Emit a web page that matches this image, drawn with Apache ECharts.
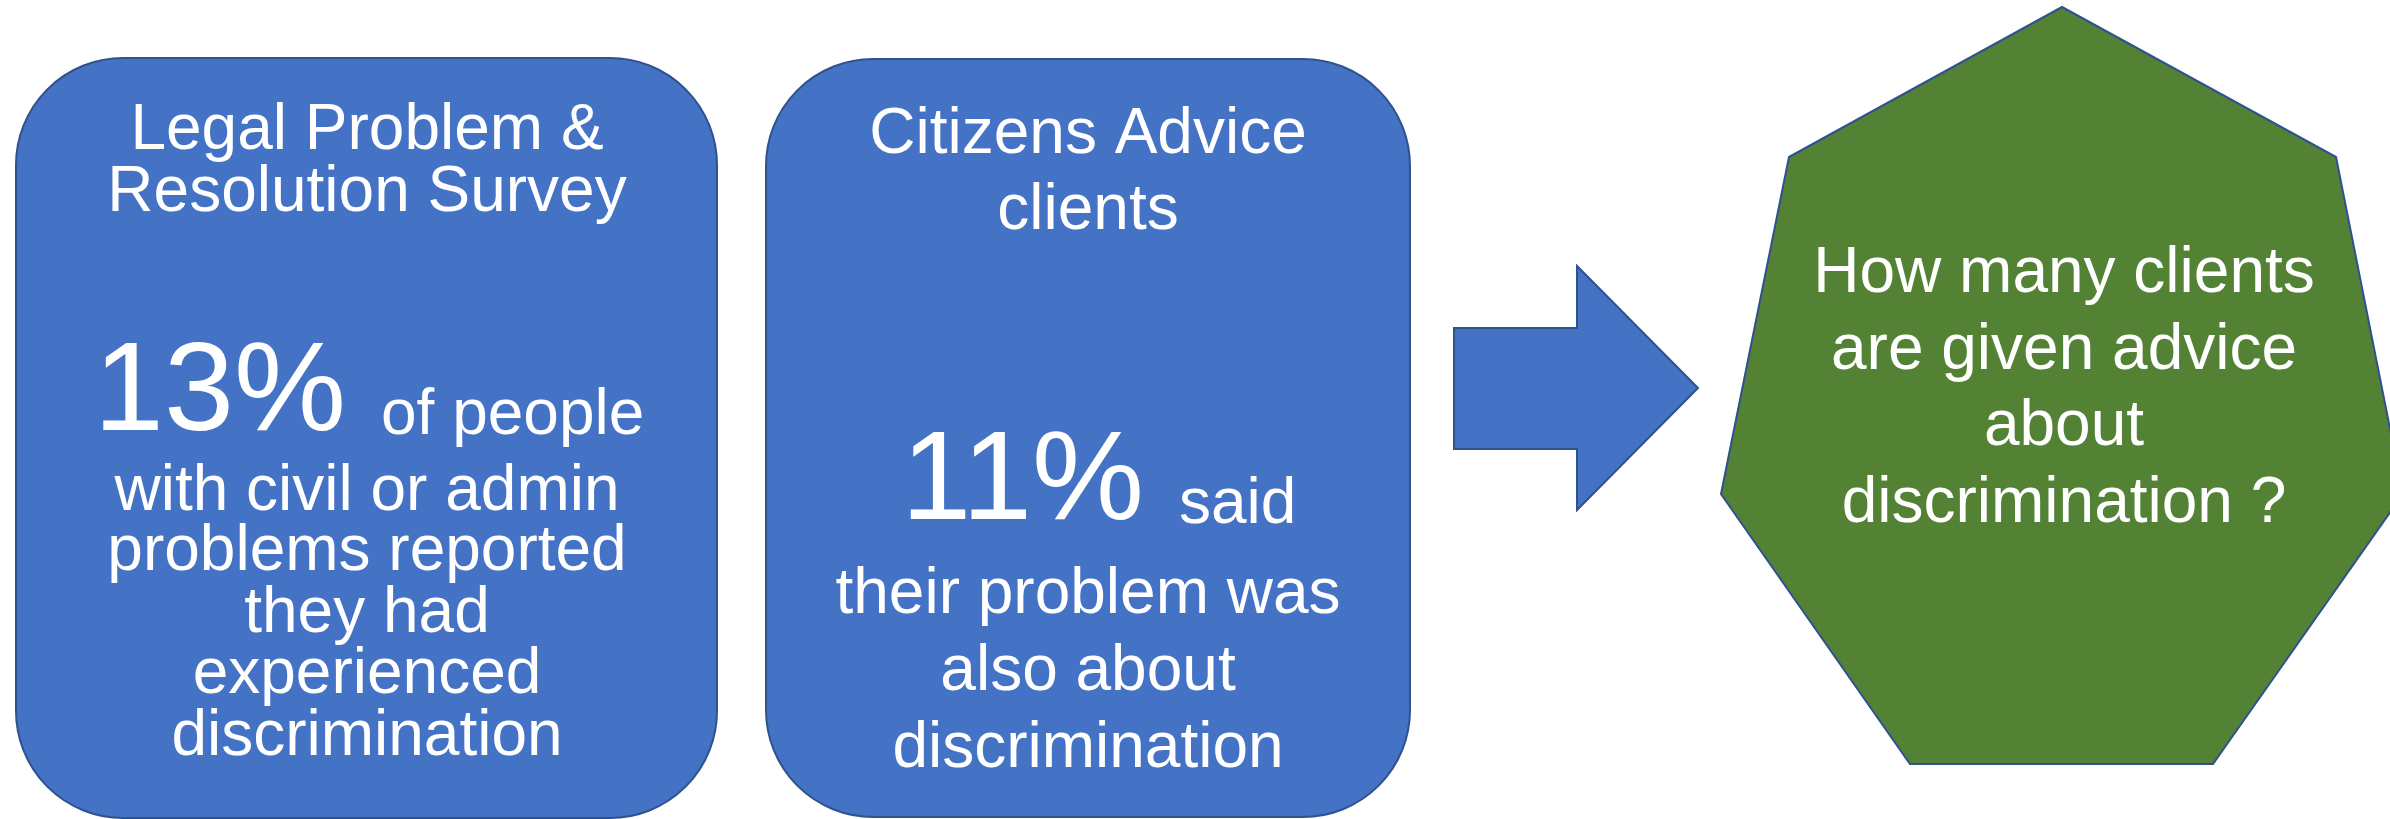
<!DOCTYPE html>
<html>
<head>
<meta charset="utf-8">
<script src="https://cdn.jsdelivr.net/npm/echarts@6/dist/echarts.min.js"></script>
<style>
html,body{margin:0;padding:0;background:#fff;}
#chart{width:2390px;height:819px;}
</style>
</head>
<body>
<div id="chart"></div>
<script>
// ---- data ----
const headings = [
  ["Legal Problem &", "Resolution Survey"],
  ["Citizens Advice", "clients"]
];
const percentages = [13, 11];
const leadWords = ["of people", "said"];
const descriptions = [
  ["with civil or admin", "problems reported", "they had", "experienced", "discrimination"],
  ["their problem was", "also about", "discrimination"]
];
const questionLines = ["How many clients", "are given advice", "about", "discrimination ?"];

// ---- layout / style ----
const FONT = '"Liberation Sans", Arial, sans-serif';
const SIZE = 64, BIG = 126, MID = 0.34;
const BLUE = '#4472C4', EDGE = '#2F528F', GREEN = '#548235';
const boxes = [
  {x: 16, y: 58, w: 701, h: 760, cx: 367, head: [153, 215], big: 438, pctRight: 346, leadLeft: 381, desc: [514, 574, 636, 697, 759]},
  {x: 766, y: 59, w: 644, h: 758, cx: 1088, head: [157, 233], big: 527, pctRight: 1144, leadLeft: 1179, desc: [617, 694, 771]}
];
const arrowPts = [[1454,328],[1577,328],[1577,266],[1698,388],[1577,510],[1577,449],[1454,449]];
const heptPts = [[2062,7],[2336,157],[2403,494],[2213,764],[1910,764],[1721,494],[1789,157]];
const question = {cx: 2064, lines: [296, 373, 449, 526]};

function txt(str, x, baseline, size, align) {
  return {
    type: 'text', silent: true, z: 10,
    style: {
      text: str, x: x, y: baseline - MID * size,
      fill: '#fff', font: size + 'px ' + FONT,
      fontSize: size, fontFamily: FONT,
      align: align || 'center', verticalAlign: 'middle'
    }
  };
}

const elements = [];
boxes.forEach((b, i) => {
  elements.push({
    type: 'rect', z: 1,
    shape: {x: b.x, y: b.y, width: b.w, height: b.h, r: 107},
    style: {fill: BLUE, stroke: EDGE, lineWidth: 2}
  });
  headings[i].forEach((s, k) => elements.push(txt(s, b.cx, b.head[k], SIZE)));
  elements.push(txt(percentages[i] + '%', b.pctRight, b.big, BIG, 'right'));
  elements.push(txt(leadWords[i], b.leadLeft, b.big, SIZE, 'left'));
  descriptions[i].forEach((s, k) => elements.push(txt(s, b.cx, b.desc[k], SIZE)));
});
elements.push({
  type: 'polygon', z: 1, shape: {points: arrowPts},
  style: {fill: BLUE, stroke: EDGE, lineWidth: 2}
});
elements.push({
  type: 'polygon', z: 1, shape: {points: heptPts},
  style: {fill: GREEN, stroke: EDGE, lineWidth: 2}
});
questionLines.forEach((s, k) => elements.push(txt(s, question.cx, question.lines[k], SIZE)));

const chart = echarts.init(document.getElementById('chart'), null, {renderer: 'canvas'});
chart.setOption({
  backgroundColor: '#ffffff',
  animation: false,
  graphic: {elements: elements}
});
</script>
</body>
</html>
